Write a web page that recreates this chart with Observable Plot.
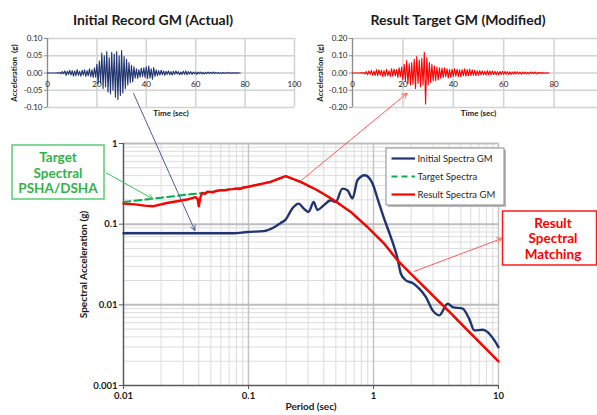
<!DOCTYPE html>
<html>
<head>
<meta charset="utf-8">
<script src="https://cdn.jsdelivr.net/npm/d3@7"></script>
<script src="https://cdn.jsdelivr.net/npm/@observablehq/plot@0.6"></script>
<style>
  html, body { margin: 0; padding: 0; background: #fff; }
  #chart { position: relative; width: 597px; height: 415px; overflow: hidden; font-family: Lato, "Open Sans", sans-serif; }
  #chart > svg { position: absolute; top: 0; }
</style>
</head>
<body>
<div id="chart"></div>
<script>
// ---- Ground-motion records (acceleration in g, sampled every 0.5 s from t = 0) ----
const recordStep = 0.5;
const initialRecord = [
  0, 0, 0, 0, 0, 0, 0, 0, 0.001, -0.001,
  0.002, -0.003, 0.004, -0.002, 0.006, -0.007, 0.005, -0.004, 0.008, -0.006,
  0.007, -0.009, 0.006, -0.008, 0.010, -0.007, 0.005, -0.009, 0.008, -0.006,
  0.009, -0.010, 0.007, -0.008, 0.012, -0.011, 0.009, -0.013, 0.015, -0.012,
  0.025, -0.030, 0.035, -0.028, 0.058, -0.045, 0.050, -0.040, 0.062, -0.055,
  0.045, -0.060, 0.060, -0.050, 0.055, -0.070, 0.062, -0.077, 0.050, -0.065,
  0.065, -0.058, 0.048, -0.045, 0.040, -0.035, 0.030, -0.028, 0.022, -0.025,
  0.018, -0.015, 0.012, -0.016, 0.010, -0.012, 0.014, -0.011, 0.015, -0.013,
  0.018, -0.016, 0.020, -0.015, 0.012, -0.018, 0.016, -0.010, 0.009, -0.008,
  0.007, -0.006, 0.008, -0.005, 0.006, -0.007, 0.005, -0.004, 0.006, -0.005,
  0.004, -0.006, 0.005, -0.004, 0.006, -0.003, 0.004, -0.005, 0.003, -0.004,
  0.005, -0.004, 0.006, -0.005, 0.004, -0.003, 0.004, -0.004, 0.003, -0.002,
  0.003, -0.004, 0.003, -0.002, 0.003, -0.003, 0.002, -0.003, 0.002, -0.002,
  0.003, -0.002, 0.002, -0.002, 0.003, -0.002, 0.002, -0.001, 0.002, -0.002,
  0.001, -0.002, 0.002, -0.001, 0.001, -0.001, 0.002, -0.001, 0.001, -0.001,
  0.001, -0.001, 0.001, -0.001, 0.001, 0, 0
];
const resultRecord = [
  0, 0, 0, 0, 0, 0, 0, 0.002, -0.002, 0.003,
  -0.005, 0.008, -0.010, 0.012, -0.008, 0.015, -0.012, 0.010, -0.014, 0.020,
  -0.015, 0.018, -0.012, 0.016, -0.020, 0.014, -0.018, 0.022, -0.016, 0.012,
  -0.020, 0.025, -0.018, 0.022, -0.015, 0.020, -0.025, 0.030, -0.022, 0.035,
  -0.040, 0.050, -0.045, 0.072, -0.060, 0.055, -0.070, 0.060, -0.065, 0.080,
  -0.090, 0.095, -0.060, 0.075, -0.080, 0.085, -0.070, 0.120, -0.180, 0.090,
  -0.070, 0.060, -0.055, 0.050, -0.045, 0.040, -0.045, 0.035, -0.040, 0.030,
  -0.030, 0.028, -0.025, 0.030, -0.022, 0.025, -0.028, 0.020, -0.025, 0.022,
  -0.020, 0.025, -0.018, 0.022, -0.020, 0.018, -0.022, 0.020, -0.016, 0.024,
  -0.018, 0.020, -0.016, 0.022, -0.015, 0.018, -0.014, 0.016, -0.015, 0.012,
  -0.012, 0.014, -0.010, 0.012, -0.011, 0.010, -0.012, 0.014, -0.010, 0.012,
  -0.010, 0.012, -0.009, 0.010, -0.011, 0.008, -0.010, 0.009, -0.008, 0.010,
  -0.008, 0.009, -0.007, 0.008, -0.009, 0.007, -0.008, 0.006, -0.007, 0.008,
  -0.006, 0.007, -0.006, 0.005, -0.007, 0.006, -0.005, 0.006, -0.005, 0.004,
  -0.005, 0.006, -0.004, 0.005, -0.004, 0.006, -0.005, 0.004, -0.003, 0.004,
  -0.003, 0.003, -0.002, 0.002, -0.001, 0.001, 0
];
const timeTicks = [0, 20, 40, 60, 80, 100];
const initialAccTicks = [-0.1, -0.05, 0, 0.05, 0.1];
const initialAccLabels = ["-0.10", "-0.05", "0.00", "0.05", "0.10"];
const resultAccTicks = [-0.2, -0.1, 0, 0.1, 0.2];
const resultAccLabels = ["-0.20", "-0.10", "0.00", "0.10", "0.20"];

// ---- Response spectra (period in s, spectral acceleration in g) ----
const initialPeriod = [0.01, 0.076, 0.0976, 0.132, 0.159, 0.180, 0.198, 0.224, 0.252, 0.276, 0.303, 0.332, 0.356, 0.399, 0.455, 0.498, 0.564, 0.619, 0.679, 0.744, 0.851, 0.982, 1.077, 1.216, 1.376, 1.557, 1.656, 1.815, 2.054, 2.321, 2.627, 2.973, 3.36, 3.92, 4.30, 5.17, 5.81, 6.41, 7.48, 8.20, 9.27, 10];
const initialSA = [0.077, 0.077, 0.080, 0.082, 0.091, 0.103, 0.114, 0.156, 0.180, 0.157, 0.142, 0.188, 0.150, 0.171, 0.198, 0.188, 0.276, 0.263, 0.208, 0.350, 0.404, 0.319, 0.208, 0.117, 0.0693, 0.0374, 0.0243, 0.0201, 0.0186, 0.01586, 0.01247, 0.00853, 0.0074, 0.01033, 0.00937, 0.00896, 0.00679, 0.00482, 0.00491, 0.00459, 0.00362, 0.00299];

const targetPeriod = [0.01, 0.02, 0.035, 0.045, 0.05, 0.0596, 0.075, 0.0976, 0.15, 0.198, 0.261, 0.356, 0.483, 0.658, 0.895, 1.216, 1.557, 1.99, 2.546, 3.06, 4.17, 5.67, 7.71, 10];
const targetSA = [0.188, 0.213, 0.236, 0.245, 0.251, 0.263, 0.272, 0.289, 0.334, 0.393, 0.334, 0.263, 0.198, 0.1416, 0.0922, 0.0574, 0.0356, 0.0243, 0.01665, 0.01255, 0.00783, 0.00482, 0.00299, 0.00199];

const resultPeriod = [0.01, 0.0124, 0.0147, 0.0174, 0.0223, 0.0322, 0.0376, 0.0392, 0.040, 0.0412, 0.0425, 0.045, 0.047, 0.0496, 0.052, 0.055, 0.0596, 0.065, 0.070, 0.075, 0.080, 0.085, 0.090, 0.0976, 0.150, 0.198, 0.261, 0.356, 0.483, 0.658, 0.895, 1.216, 1.557, 1.99, 2.546, 3.06, 4.17, 5.67, 7.71, 10];
const resultSA = [0.180, 0.176, 0.170, 0.167, 0.183, 0.202, 0.217, 0.205, 0.167, 0.215, 0.244, 0.238, 0.252, 0.251, 0.248, 0.258, 0.263, 0.262, 0.270, 0.272, 0.276, 0.272, 0.284, 0.289, 0.334, 0.393, 0.334, 0.263, 0.198, 0.1416, 0.0922, 0.0574, 0.0356, 0.0243, 0.01665, 0.01255, 0.00783, 0.00482, 0.00299, 0.00199];

const periodTicks = [0.01, 0.1, 1, 10];
const periodTickLabels = ["0.01", "0.1", "1", "10"];
const saTicks = [0.001, 0.01, 0.1, 1];
const saTickLabels = ["0.001", "0.01", "0.1", "1"];

const colors = { initial: "#1f3470", target: "#00b050", result: "#ff0000" };

// ---- helpers ----
const toRows = (xs, ys) => xs.map((x, i) => ({ x, y: ys[i] }));
const recordRows = (vals) => vals.map((a, i) => ({ t: i * recordStep, a }));
const labelFor = (ticks, labels) => (d) => labels[ticks.indexOf(d)];

// minor log gridlines: 2..9 within each decade
function minorLog(lo, hi) {
  const out = [];
  for (let p = lo; p < hi; p *= 10) for (let k = 2; k <= 9; k++) out.push(+(p * k).toPrecision(3));
  return out;
}

const chart = document.getElementById("chart");

// ---- main response-spectrum chart ----
const main = Plot.plot({
  width: 597, height: 415,
  marginLeft: 123, marginRight: 99, marginTop: 143, marginBottom: 30,
  x: { type: "log", domain: [0.01, 10] },
  y: { type: "log", domain: [0.001, 1] },
  style: { fontFamily: "Lato, 'Open Sans', sans-serif", fontWeight: "bold", fontSize: "9.5px", color: "#1a1a1a", background: "transparent" },
  marks: [
    Plot.ruleX(minorLog(0.01, 10), { stroke: "#dcdcdc", strokeWidth: 1 }),
    Plot.ruleY(minorLog(0.001, 1), { stroke: "#dcdcdc", strokeWidth: 1 }),
    Plot.ruleX([0.1, 1, 10], { stroke: "#c4c4c4", strokeWidth: 1.5 }),
    Plot.ruleY([0.01, 0.1, 1], { stroke: "#bdbdbd", strokeWidth: 2 }),
    Plot.axisY({ ticks: saTicks, tickFormat: labelFor(saTicks, saTickLabels), tickSize: 4, tickPadding: 2, label: null, stroke: "#595959" }),
    Plot.axisX({ ticks: periodTicks, tickFormat: labelFor(periodTicks, periodTickLabels), tickSize: 4, tickPadding: 3, label: null, stroke: "#595959" }),
    Plot.ruleX([0.01], { stroke: "#595959", strokeWidth: 1.5 }),
    Plot.ruleY([0.001], { stroke: "#595959", strokeWidth: 1.5 }),
    Plot.line(toRows(initialPeriod, initialSA), { x: "x", y: "y", stroke: colors.initial, strokeWidth: 2.4, curve: "monotone-x" }),
    Plot.line(toRows(targetPeriod, targetSA), { x: "x", y: "y", stroke: colors.target, strokeWidth: 2, strokeDasharray: "7,4" }),
    Plot.line(toRows(resultPeriod, resultSA), { x: "x", y: "y", stroke: colors.result, strokeWidth: 2.4 }),
    Plot.text(["Spectral Acceleration (g)"], { frameAnchor: "left", textAnchor: "middle", rotate: -90, dx: -40, fontSize: 10 }),
    Plot.text(["Period (sec)"], { frameAnchor: "bottom", dy: 24, fontSize: 10 })
  ]
});
main.style.left = "0px";
chart.appendChild(main);

// ---- acceleration time-history panels ----
function recordPlot(values, { ticks, labels, color, width, marginLeft, marginRight, labelOffset }) {
  return Plot.plot({
    width, height: 130, marginLeft, marginRight, marginTop: 38, marginBottom: 23,
    x: { domain: [0, 100], axis: null },
    y: { domain: [ticks[0], ticks[ticks.length - 1]] },
    style: { fontFamily: "Lato, 'Open Sans', sans-serif", fontSize: "8px", color: "#1a1a1a", background: "transparent", overflow: "visible" },
    marks: [
      Plot.ruleX(timeTicks, { stroke: "#d2d2d2", strokeWidth: 1.5 }),
      Plot.ruleY(ticks, { stroke: "#d2d2d2", strokeWidth: 1.5 }),
      Plot.ruleX([0], { stroke: "#8c8c8c", strokeWidth: 1.2 }),
      Plot.axisY({ ticks, tickFormat: labelFor(ticks, labels), tickSize: 3, tickPadding: 2, label: null, stroke: "#8c8c8c" }),
      Plot.line(recordRows(values), { x: "t", y: "a", stroke: color, strokeWidth: 1.1 }),
      Plot.text(timeTicks, { x: (d) => d, y: 0, dy: 11, text: (d) => String(d), fontSize: 8 }),
      Plot.text(["Acceleration  (g)"], { frameAnchor: "left", textAnchor: "middle", rotate: -90, dx: -labelOffset, fontWeight: "bold", fontSize: 8 }),
      Plot.text(["Time (sec)"], { frameAnchor: "bottom", dy: 8, fontWeight: "bold", fontSize: 8 })
    ]
  });
}

const leftRec = recordPlot(initialRecord, { ticks: initialAccTicks, labels: initialAccLabels, color: colors.initial, width: 300, marginLeft: 47, marginRight: 6, labelOffset: 33 });
leftRec.style.left = "0px";
chart.appendChild(leftRec);

const rightRec = recordPlot(resultRecord, { ticks: resultAccTicks, labels: resultAccLabels, color: colors.result, width: 304, marginLeft: 52, marginRight: 0, labelOffset: 32 });
rightRec.style.left = "300px";
chart.appendChild(rightRec);

// ---- titles, legend, callouts and connecting arrows ----
const overlay = d3.select(chart).append("svg")
  .attr("width", 597).attr("height", 415)
  .style("left", "0px")
  .style("font-family", "Lato, 'Open Sans', sans-serif");

const mx = main.scale("x"), my = main.scale("y");
const lx = leftRec.scale("x"), ly = leftRec.scale("y");
const rx = rightRec.scale("x"), ry = rightRec.scale("y");
const mainPt = (p, sa) => [mx.apply(p), my.apply(sa)];
const leftPt = (t, a) => [lx.apply(t), ly.apply(a)];
const rightPt = (t, a) => [rx.apply(t) + 300, ry.apply(a)];

overlay.append("text").attr("x", 153).attr("y", 25).attr("text-anchor", "middle")
  .attr("font-size", 14).attr("font-weight", "bold").attr("fill", "#1a1a1a").text("Initial Record GM (Actual)");
overlay.append("text").attr("x", 458).attr("y", 25).attr("text-anchor", "middle")
  .attr("font-size", 14).attr("font-weight", "bold").attr("fill", "#1a1a1a").text("Result Target GM (Modified)");

function arrow([x1, y1], [x2, y2], color, head = 6) {
  const g = overlay.append("g").attr("stroke", color).attr("stroke-width", 1).attr("fill", "none");
  g.append("line").attr("x1", x1).attr("y1", y1).attr("x2", x2).attr("y2", y2);
  const ang = Math.atan2(y2 - y1, x2 - x1);
  const a1 = ang + Math.PI - 0.45, a2 = ang + Math.PI + 0.45;
  g.append("polyline").attr("points", [
    [x2 + head * Math.cos(a1), y2 + head * Math.sin(a1)],
    [x2, y2],
    [x2 + head * Math.cos(a2), y2 + head * Math.sin(a2)]
  ].map((p) => p.join(",")).join(" "));
}

// legend
const legend = overlay.append("g");
legend.append("rect").attr("x", 388).attr("y", 150).attr("width", 118).attr("height", 57).attr("fill", "#b8b8b8");
legend.append("rect").attr("x", 386).attr("y", 148).attr("width", 118).attr("height", 57).attr("fill", "#fff").attr("stroke", "#8a8a8a");
[
  ["Initial Spectra GM", colors.initial, null, 158.5],
  ["Target Spectra", colors.target, "6,4", 176.5],
  ["Result Spectra GM", colors.result, null, 194.5]
].forEach(([label, color, dash, y]) => {
  legend.append("line").attr("x1", 391.5).attr("x2", 415).attr("y1", y).attr("y2", y)
    .attr("stroke", color).attr("stroke-width", 2.2).attr("stroke-dasharray", dash);
  legend.append("text").attr("x", 417.5).attr("y", y + 3.3).attr("font-size", 9.5).attr("fill", "#262626").text(label);
});

// callout boxes
function callout(x, y, w, h, lines, color, border, cx, ys) {
  const g = overlay.append("g");
  g.append("rect").attr("x", x).attr("y", y).attr("width", w).attr("height", h)
    .attr("fill", "#fff").attr("stroke", border).attr("stroke-width", 1.5);
  lines.forEach((t, i) => g.append("text").attr("x", cx).attr("y", ys[i]).attr("text-anchor", "middle")
    .attr("dominant-baseline", "central").attr("font-size", 13.5).attr("font-weight", "bold").attr("fill", color).text(t));
}
callout(12, 145, 92, 54, ["Target", "Spectral", "PSHA/DSHA"], "#2fb24a", "#5cc877", 58, [157, 172.7, 188.3]);
callout(502.5, 211, 94, 54, ["Result", "Spectral", "Matching"], "#ff0000", "#ff1a1a", 553, [222.7, 238.3, 254]);

// connecting arrows
arrow([106, 172.7], mainPt(0.0174, 0.202), "#3cbf5c");
arrow(leftPt(35, -0.06), mainPt(0.0376, 0.082), "#4f5f8f");
arrow(mainPt(0.261, 0.334), rightPt(21.9, -0.12), "#ff5a5a");
arrow(mainPt(2.12, 0.0255), [502.3, 238.3], "#ff5a5a");
</script>
</body>
</html>
